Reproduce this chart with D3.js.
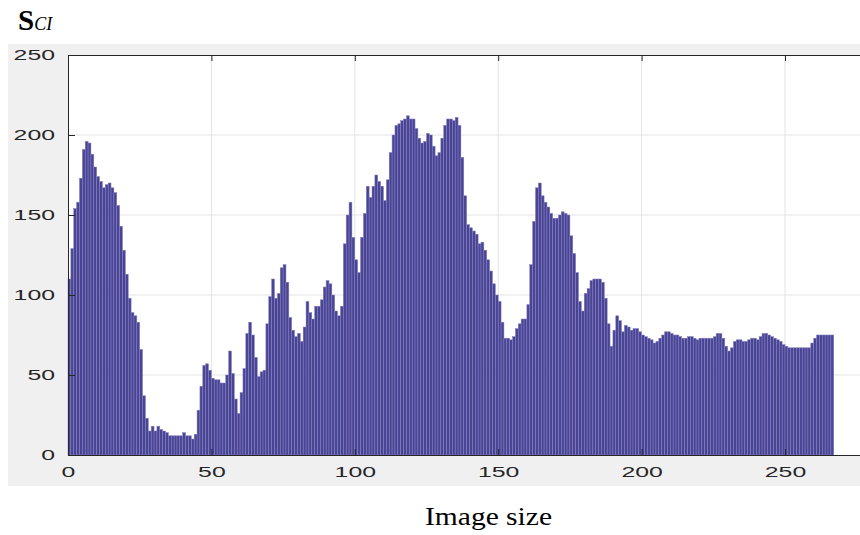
<!DOCTYPE html>
<html>
<head>
<meta charset="utf-8">
<script src="https://cdn.jsdelivr.net/npm/d3@7"></script>
<style>
  body { margin: 0; background: #fff; }
</style>
</head>
<body>
<script>
// bar heights, one per bin (bin k covers k-1..k)
const counts = [
  110, 129, 154, 158, 173, 191, 196, 195, 188, 180,
  174, 171, 167, 169, 170, 167, 164, 156, 143, 128,
  113, 98, 89, 87, 83, 66, 37, 23, 15, 18,
  15, 18, 16, 15, 14, 12, 12, 12, 12, 12,
  14, 12, 12, 10, 13, 28, 43, 56, 57, 53,
  48, 47, 47, 45, 45, 50, 65, 51, 35, 26,
  39, 54, 76, 83, 75, 61, 49, 52, 53, 82,
  99, 110, 98, 101, 117, 119, 108, 86, 78, 74,
  76, 71, 80, 96, 89, 85, 93, 93, 97, 105,
  109, 107, 100, 90, 87, 93, 132, 150, 158, 136,
  122, 114, 136, 151, 168, 161, 168, 175, 171, 168,
  159, 172, 189, 200, 206, 207, 209, 210, 212, 210,
  210, 204, 198, 195, 196, 201, 200, 193, 187, 189,
  198, 206, 210, 210, 209, 211, 206, 186, 162, 144,
  142, 140, 138, 132, 133, 128, 122, 115, 107, 100,
  96, 83, 73, 73, 72, 74, 79, 82, 85, 85,
  94, 119, 146, 167, 170, 162, 158, 155, 151, 148,
  148, 150, 152, 151, 150, 137, 126, 114, 96, 90,
  101, 104, 109, 110, 110, 110, 108, 98, 82, 68,
  78, 87, 84, 77, 81, 80, 78, 79, 79, 77,
  75, 74, 73, 72, 70, 71, 73, 75, 77, 77,
  76, 75, 75, 74, 73, 73, 74, 74, 73, 72,
  73, 73, 73, 73, 73, 74, 76, 76, 73, 68,
  65, 67, 71, 72, 72, 71, 71, 72, 73, 73,
  72, 74, 76, 76, 75, 74, 73, 72, 71, 69,
  68, 67, 67, 67, 67, 67, 67, 67, 67, 70,
  73, 75, 75, 75, 75, 75, 75
];
const xTicks = [0, 50, 100, 150, 200, 250];
const yTicks = [0, 50, 100, 150, 200, 250];

const width = 860;
const height = 535;
const plot = { left: 68, top: 55, bottom: 455 };

const svg = d3.select("body").append("svg")
  .attr("width", width)
  .attr("height", height);

// grey figure background
svg.append("rect")
  .attr("x", 8).attr("y", 44)
  .attr("width", width - 8).attr("height", 442)
  .attr("fill", "#f0f0f0");

const x = d3.scaleLinear().domain([0, 280]).range([plot.left, plot.left + 280 * 2.868]);
const y = d3.scaleLinear().domain([0, 250]).range([plot.bottom, plot.top]);

svg.append("clipPath").attr("id", "clip")
  .append("rect")
  .attr("x", 0).attr("y", 0)
  .attr("width", width).attr("height", height);

const g = svg.append("g").attr("clip-path", "url(#clip)");

// white axes area
g.append("rect")
  .attr("x", plot.left).attr("y", plot.top)
  .attr("width", x(280) - plot.left).attr("height", plot.bottom - plot.top)
  .attr("fill", "#fff");

// grid lines
g.selectAll(".vgrid")
  .data(xTicks.slice(1))
  .join("line")
  .attr("x1", d => x(d)).attr("x2", d => x(d))
  .attr("y1", plot.top).attr("y2", plot.bottom)
  .attr("stroke", "#e3e3e3").attr("stroke-width", 1);

g.selectAll(".hgrid")
  .data(yTicks.slice(1, -1))
  .join("line")
  .attr("x1", plot.left).attr("x2", x(280))
  .attr("y1", d => y(d)).attr("y2", d => y(d))
  .attr("stroke", "#e3e3e3").attr("stroke-width", 1);

// bars
g.selectAll(".bar")
  .data(counts)
  .join("rect")
  .attr("x", (d, i) => x(i))
  .attr("width", (d, i) => x(i + 1) - x(i))
  .attr("y", d => y(d))
  .attr("height", d => y(0) - y(d))
  .attr("fill", "#4a4495")
  .attr("stroke", "#8681c2")
  .attr("stroke-width", 0.5);

// axes
const xAxis = d3.axisBottom(x).tickValues(xTicks).tickSizeInner(-6).tickSizeOuter(0).tickPadding(11);
const xTop = d3.axisTop(x).tickValues(xTicks).tickSizeInner(-6).tickSizeOuter(0).tickFormat("");
const yAxis = d3.axisLeft(y).tickValues(yTicks).tickSizeInner(-7).tickSizeOuter(0).tickPadding(13);

const gx = g.append("g").attr("transform", `translate(0,${plot.bottom})`).call(xAxis);
const gt = g.append("g").attr("transform", `translate(0,${plot.top})`).call(xTop);
const gy = g.append("g").attr("transform", `translate(${plot.left},0)`).call(yAxis);

[gx, gt, gy].forEach(a => {
  a.select(".domain").attr("stroke", "#262626");
  a.selectAll(".tick line").attr("stroke", "#262626");
  a.selectAll(".tick text")
    .attr("fill", "#262626")
    .style("font-family", "'Liberation Sans', Arial, sans-serif")
    .style("font-size", "15px")
    .attr("textLength", function() { return this.textContent.length * 13.8; })
    .attr("lengthAdjust", "spacingAndGlyphs");
});

// title S_CI
const title = svg.append("text")
  .attr("x", 18).attr("y", 30)
  .style("font-family", "'Liberation Serif', 'Times New Roman', serif")
  .attr("fill", "#000");
title.append("tspan").text("S")
  .style("font-weight", "bold").style("font-size", "29px");
title.append("tspan").text("CI")
  .style("font-style", "italic").style("font-size", "18px");

// x label
svg.append("text")
  .attr("x", 425).attr("y", 525)
  .style("font-family", "'Liberation Serif', 'Times New Roman', serif")
  .style("font-size", "25px")
  .attr("fill", "#000")
  .attr("textLength", 127)
  .attr("lengthAdjust", "spacingAndGlyphs")
  .text("Image size");
</script>
</body>
</html>
